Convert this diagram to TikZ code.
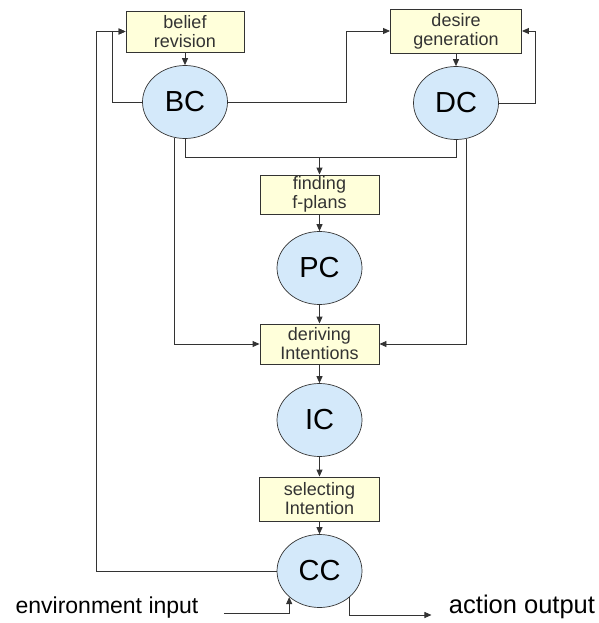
\documentclass[tikz,border=0pt]{standalone}
\usepackage{fontspec}
\setmainfont{Liberation Sans}
\usepackage{tikz}
\usetikzlibrary{positioning}
\usetikzlibrary{shapes.geometric}
\usetikzlibrary{arrows.meta}
\definecolor{boxfill}{RGB}{255,255,218}
\definecolor{compfill}{RGB}{212,233,250}
\colorlet{linecol}{black!80}
\tikzstyle{proc}=[draw=linecol,fill=boxfill,line width=0.9,inner sep=0pt,align=center,
                  font=\fontsize{18}{19}\selectfont,text=black!80]
\tikzstyle{comp}=[ellipse,draw=linecol,fill=compfill,line width=0.7,inner sep=0pt,
                  minimum width=85pt,minimum height=73pt,font=\fontsize{29}{30}\selectfont]
\tikzset{>={Triangle[length=7pt,width=6pt]}}
\tikzstyle{flow}=[->,linecol,line width=0.9]

\begin{document}
\begin{tikzpicture}[x=1pt,y=-1pt]

\useasboundingbox (0,0) rectangle (598,623);

% Process boxes
\node[proc,minimum width=118pt,minimum height=41pt] (rev) at (185,31.5) {belief\\revision};
\node[proc,minimum width=131pt,minimum height=44pt] (gen) at (456,31) {desire\\generation};
\node[proc,minimum width=119pt,minimum height=39pt] (find) at (319.5,194.5) {finding\\f-plans};
\node[proc,minimum width=119pt,minimum height=40pt] (der) at (319.5,344) {deriving\\Intentions};
\node[proc,minimum width=120pt,minimum height=44pt] (sel) at (319.5,499) {selecting\\Intention};

% Components
\node[comp] (BC) at (185,102) {BC};
\node[comp] (DC) at (456,103) {DC};
\node[comp] (PC) at (319.5,268) {PC};
\node[comp] (IC) at (319.5,420) {IC};
\node[comp] (CC) at (319.5,571) {CC};

% Outside labels
\node[font=\fontsize{23}{25}\selectfont] (env) at (107,608) {environment input};
\node[font=\fontsize{25.5}{27}\selectfont] (act) at (522,607) {action output};

% Top row
\draw[flow] (rev.south) -- (BC.north);
\draw[flow] (gen.south) -- (DC.north);
\draw[flow] (BC.west) -- ++(-30,0) |- (rev.west);
\draw[flow] (CC.west) -- ++(-180,0) |- (rev.west);
\draw[flow] (BC.east) -- ++(119,0) |- (gen.west);
\draw[flow] (DC.east) -- ++(37,0) |- (gen.east);

% Towards the plans
\draw[linecol,line width=0.9] (BC.south) -- ++(0,18.5) coordinate (split) -| (DC.south);
\draw[flow] (split -| find.north) -- (find.north);
\draw[flow] (BC.-106) |- (der.west);
\draw[flow] (DC.-74) |- (der.east);

% Middle chain
\draw[flow] (find.south) -- (PC.north);
\draw[flow] (PC.south) -- (der.north);
\draw[flow] (der.south) -- (IC.north);
\draw[flow] (IC.south) -- (sel.north);
\draw[flow] (sel.south) -- (CC.north);

% Input and output
\draw[flow] ([xshift=22pt,yshift=-5pt]env.east) -| (CC.south west);
\draw[flow] (CC.south east) |- ([xshift=-14pt,yshift=-8pt]act.west);

\end{tikzpicture}
\end{document}
